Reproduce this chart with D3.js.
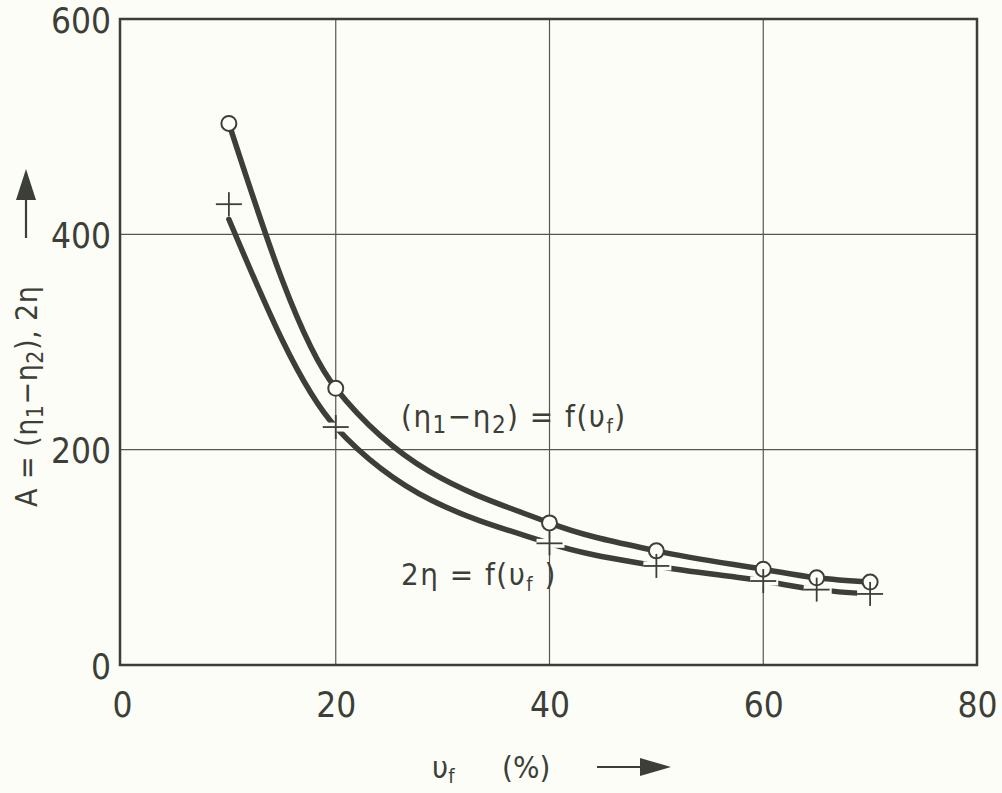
<!DOCTYPE html>
<html>
<head>
<meta charset="utf-8">
<script src="https://cdn.jsdelivr.net/npm/d3@7"></script>
<style>
  body { margin: 0; background: #fdfdf7; }
  svg { display: block; }
  .lbl { font-family: 'Liberation Sans Narrow', 'DejaVu Sans Condensed', sans-serif; fill: #3c3f37; }
</style>
</head>
<body>
<div class="chart"></div>
<script>
// data
const vf = [10, 20, 40, 50, 60, 65, 70];
const etaDiff = [503, 257, 132, 106, 89, 81, 77];      // (eta1 - eta2), circles
const twoEta = [428, 221, 113, 92, 78, 70, 66];        // 2 eta, crosses
const twoEtaCurve = [414, 221, 113, 92, 78, 70, 66];   // drawn curve for 2 eta
const xTicks = [0, 20, 40, 60, 80];
const yTicks = [0, 200, 400, 600];

const W = 1002, H = 793;
const ink = '#3c3f37';
const bg = '#fdfdf7';
const margin = {top: 19, right: 25, bottom: 128, left: 122};

const x = d3.scaleLinear().domain([0, 80]).range([margin.left, W - margin.right]);
const y = d3.scaleLinear().domain([0, 600]).range([H - margin.bottom, margin.top]);

const svg = d3.select('.chart').append('svg')
  .attr('width', W)
  .attr('height', H);

svg.append('rect').attr('width', W).attr('height', H).attr('fill', bg);

// grid
svg.append('g').selectAll('line')
  .data([20, 40, 60])
  .enter().append('line')
  .attr('x1', d => x(d)).attr('x2', d => x(d))
  .attr('y1', y(0)).attr('y2', y(600))
  .attr('stroke', '#55574f').attr('stroke-width', 1.2);

svg.append('g').selectAll('line')
  .data([200, 400])
  .enter().append('line')
  .attr('x1', x(0) - 2).attr('x2', x(80))
  .attr('y1', d => y(d)).attr('y2', d => y(d))
  .attr('stroke', '#55574f').attr('stroke-width', 1.2);

// frame
svg.append('rect')
  .attr('x', x(0) - 2).attr('y', y(600))
  .attr('width', x(80) - x(0) + 2).attr('height', y(0) - y(600))
  .attr('fill', 'none').attr('stroke', ink).attr('stroke-width', 2.5);

// axes (labels only)
const xAxis = svg.append('g')
  .attr('transform', 'translate(0,' + y(0) + ')')
  .call(d3.axisBottom(x).tickValues(xTicks).tickSize(0).tickPadding(27));
const yAxis = svg.append('g')
  .attr('transform', 'translate(' + (x(0) - 2) + ',0)')
  .call(d3.axisLeft(y).tickValues(yTicks).tickSize(0).tickPadding(9));

[xAxis, yAxis].forEach(a => {
  a.select('.domain').remove();
  a.selectAll('text')
    .attr('class', 'lbl')
    .style('font-size', '35px')
    .attr('fill', ink);
});
yAxis.selectAll('text').attr('dy', '0.38em');

// curves
const line = d3.line()
  .x(d => x(d[0]))
  .y(d => y(d[1]))
  .curve(d3.curveMonotoneX);

svg.append('path')
  .datum(vf.map((v, i) => [v, twoEtaCurve[i]]))
  .attr('d', line)
  .attr('fill', 'none').attr('stroke', ink)
  .attr('stroke-width', 5.5).attr('stroke-linecap', 'round');

// gaps in the lower curve beside the crosses
svg.append('g').selectAll('line')
  .data(vf.slice(1).map((v, i) => [v, twoEta[i + 1]]))
  .enter().append('line')
  .attr('x1', d => x(d[0]) - 13).attr('x2', d => x(d[0]) + 15)
  .attr('y1', d => y(d[1])).attr('y2', d => y(d[1]))
  .attr('stroke', bg).attr('stroke-width', 9);

svg.append('path')
  .datum(vf.map((v, i) => [v, etaDiff[i]]))
  .attr('d', line)
  .attr('fill', 'none').attr('stroke', ink)
  .attr('stroke-width', 5.5).attr('stroke-linecap', 'round');

// markers
svg.append('g').selectAll('circle')
  .data(vf.map((v, i) => [v, etaDiff[i]]))
  .enter().append('circle')
  .attr('cx', d => x(d[0])).attr('cy', d => y(d[1]))
  .attr('r', 7.5)
  .attr('fill', bg).attr('stroke', ink).attr('stroke-width', 2);

const crosses = svg.append('g').selectAll('g')
  .data(vf.map((v, i) => [v, twoEta[i]]))
  .enter().append('g')
  .attr('transform', d => 'translate(' + x(d[0]) + ',' + y(d[1]) + ')');
crosses.append('line').attr('x1', -13).attr('x2', 13)
  .attr('stroke', ink).attr('stroke-width', 1.8);
crosses.append('line').attr('y1', -12).attr('y2', 12)
  .attr('stroke', ink).attr('stroke-width', 1.8);

// annotations
const ann1 = svg.append('text').attr('class', 'lbl')
  .attr('x', 401).attr('y', 427)
  .style('font-size', '31px').style('letter-spacing', '1.5px');
ann1.append('tspan').text('(η');
ann1.append('tspan').attr('dy', 6).style('font-size', '24px').text('1');
ann1.append('tspan').attr('dy', -6).text('−η');
ann1.append('tspan').attr('dy', 6).style('font-size', '24px').text('2');
ann1.append('tspan').attr('dy', -6).text(') = f(υ');
ann1.append('tspan').attr('dy', 6).style('font-size', '20px').text('f');
ann1.append('tspan').attr('dy', -6).text(')');

const ann2 = svg.append('text').attr('class', 'lbl')
  .attr('x', 401).attr('y', 585)
  .style('font-size', '31px').style('letter-spacing', '1.5px');
ann2.append('tspan').text('2η = f(υ');
ann2.append('tspan').attr('dy', 6).style('font-size', '20px').text('f');
ann2.append('tspan').attr('dy', -6).text(' )');

// x axis title
const xt = svg.append('text').attr('class', 'lbl')
  .attr('x', 432).attr('y', 778)
  .style('font-size', '31px');
xt.append('tspan').text('υ');
xt.append('tspan').attr('dy', 5).style('font-size', '20px').text('f');
xt.append('tspan').attr('dy', -5).attr('x', 502).text('(%)');

svg.append('line')
  .attr('x1', 597).attr('x2', 645).attr('y1', 767).attr('y2', 767)
  .attr('stroke', ink).attr('stroke-width', 2.2);
svg.append('path')
  .attr('d', 'M640,758 L671,767 L640,776 Z')
  .attr('fill', ink);

// y axis title
const yt = svg.append('text').attr('class', 'lbl')
  .attr('transform', 'translate(37,507) rotate(-90)')
  .style('font-size', '30px').style('letter-spacing', '0.5px');
yt.append('tspan').text('A = (η');
yt.append('tspan').attr('dy', 6).style('font-size', '23px').text('1');
yt.append('tspan').attr('dy', -6).text('−η');
yt.append('tspan').attr('dy', 6).style('font-size', '23px').text('2');
yt.append('tspan').attr('dy', -6).text('),  2η');

svg.append('line')
  .attr('x1', 26).attr('x2', 26).attr('y1', 238).attr('y2', 192)
  .attr('stroke', ink).attr('stroke-width', 2.2);
svg.append('path')
  .attr('d', 'M16,200 L26,169 L36,200 Z')
  .attr('fill', ink);
</script>
</body>
</html>
